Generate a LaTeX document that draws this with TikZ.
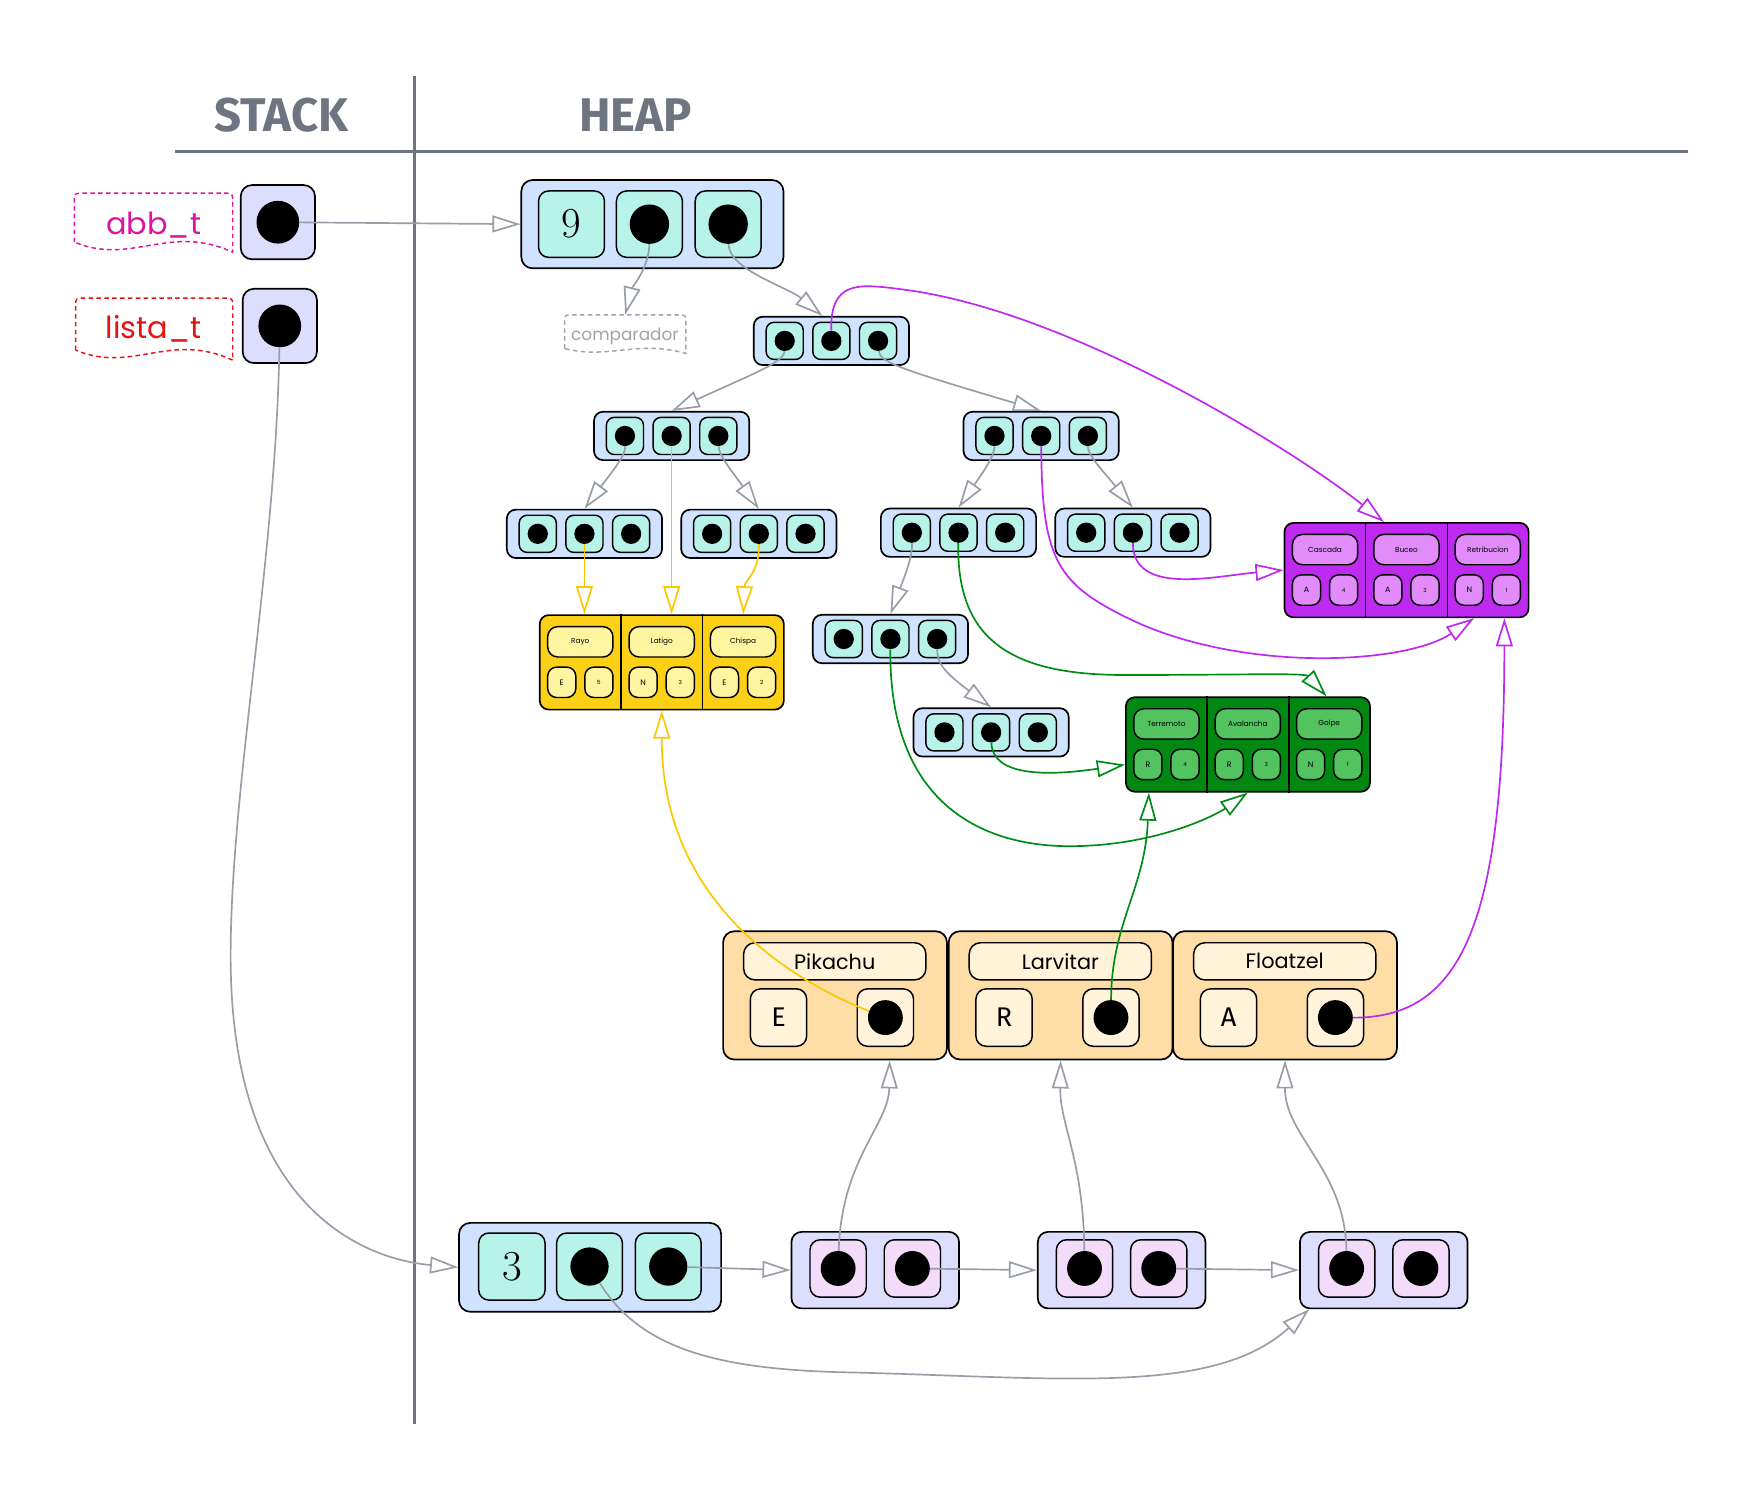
\documentclass[tikz,border=0pt]{standalone}
\usepackage{fontspec}
\newfontfamily\pop{Poppins}
\newfontfamily\fira{Fira Sans}
\usetikzlibrary{arrows.meta,calc}
\definecolor{hdr}{RGB}{110,116,128}
\definecolor{edgegray}{RGB}{152,157,168}
\definecolor{structblue}{RGB}{207,226,255}
\definecolor{cellmint}{RGB}{183,243,233}
\definecolor{lav}{RGB}{221,221,253}
\definecolor{lavcell}{RGB}{243,219,250}
\definecolor{pokefill}{RGB}{254,221,166}
\definecolor{pokepill}{RGB}{255,243,217}
\definecolor{yelbox}{RGB}{252,208,22}
\definecolor{yelpill}{RGB}{255,245,160}
\definecolor{grnbox}{RGB}{0,136,18}
\definecolor{grnpill}{RGB}{82,195,95}
\definecolor{purbox}{RGB}{190,42,240}
\definecolor{purpill}{RGB}{225,140,250}
\definecolor{magentalbl}{RGB}{220,20,160}
\definecolor{redlbl}{RGB}{228,20,20}
\definecolor{compgray}{RGB}{160,163,170}
\definecolor{yelline}{RGB}{250,200,0}
\definecolor{grnline}{RGB}{0,140,20}
\definecolor{purline}{RGB}{190,40,240}
\tikzset{
  rbox/.style={draw=black, line width=1.5pt, rounded corners=8pt, inner sep=0pt},
  cellbox/.style={draw=black, line width=1.3pt, rounded corners=7pt, inner sep=0pt},
  bdot/.style={circle, fill=black, inner sep=0pt, minimum size=#1},
  ptr/.style={line width=1.5pt, -{Triangle[open,length=25pt,width=15pt]}},
  gptr/.style={ptr, draw=edgegray},
  yptr/.style={ptr, draw=yelline},
  grptr/.style={ptr, draw=grnline},
  pptr/.style={ptr, draw=purline},
  hdrtext/.style={font=\fira\bfseries\fontsize{42}{42}\selectfont, text=hdr, inner sep=0pt},
}
% document-like dashed label outline
\newcommand\docshape[4]{%
  \draw[#2, line width=1.3pt, dash pattern=on 4pt off 3pt]
    (#1.south west) -- ($(#1.north west)+(0,8)$) .. controls (#1.north west) .. ($(#1.north west)+(8,0)$)
    -- ($(#1.north east)+(-8,0)$) .. controls (#1.north east) .. ($(#1.north east)+(0,8)$)
    -- ($(#1.south east)+(0,#3)$)
    .. controls ($(#1.south west)!0.6!(#1.south east)+(0,-#4)$) and ($(#1.south west)!0.36!(#1.south east)+(0,#4*1.25)$) .. (#1.south west) -- cycle;
}
% tree node: name, cx, cy
\newcommand\tnode[3]{%
  \node[rbox, fill=structblue, minimum width=138pt, minimum height=43pt] (#1) at (#2,#3) {};
  \foreach \k/\dx in {1/-41.5,2/0,3/41.5}{
    \node[cellbox, fill=cellmint, minimum width=33pt, minimum height=33pt] (#1c\k) at ($(#2,#3)+(\dx,0)$) {};
    \node[bdot=18pt] (#1d\k) at (#1c\k.center) {};
  }
}
% type box: name, left, top, fill, pill fill, list
\newcommand\typebox[6]{%
  \node[rbox, fill=#4, minimum width=217pt, minimum height=84pt, anchor=north west] (#1) at (#2,#3) {};
  \draw[line width=1.3pt] ($(#1.north west)!1/3!(#1.north east)$) -- ($(#1.south west)!1/3!(#1.south east)$);
  \draw[line width=1.3pt] ($(#1.north west)!2/3!(#1.north east)$) -- ($(#1.south west)!2/3!(#1.south east)$);
  \foreach \i/\nm/\lt/\vl in {#6}{
    \node[cellbox, fill=#5, minimum width=58pt, minimum height=27pt, rounded corners=9pt, font=\pop\fontsize{6.5}{6.5}\selectfont] (#1n\i) at ($(#2,#3)+(217*\i/3-35.5,24.5)$) {\nm};
    \node[cellbox, fill=#5, minimum width=25pt, minimum height=27pt, rounded corners=8pt, font=\pop\fontsize{7}{7}\selectfont] (#1l\i) at ($(#2,#3)+(217*\i/3-35.5-16.5,60.5)$) {\lt};
    \node[cellbox, fill=#5, minimum width=25pt, minimum height=27pt, rounded corners=8pt, font=\pop\fontsize{5}{5}\selectfont] (#1v\i) at ($(#2,#3)+(217*\i/3-35.5+16.5,60.5)$) {\raisebox{-1.5pt}{\vl}};
  }
}
% pokemon box: name, left, label, letter
\newcommand\pokebox[4]{%
  \node[rbox, fill=pokefill, minimum width=199pt, minimum height=114pt, anchor=north west, rounded corners=10pt] (#1) at (#2,827) {};
  \node[cellbox, fill=pokepill, minimum width=162pt, minimum height=33pt, rounded corners=10pt, font=\pop\fontsize{18.5}{18.5}\selectfont] (#1name) at ($(#2,827)+(100,27.5)$) {#3};
  \node[cellbox, fill=pokepill, minimum width=50pt, minimum height=51pt, rounded corners=9pt, font=\fira\fontsize{24}{24}\selectfont] (#1type) at ($(#2,827)+(50,77.5)$) {#4};
  \node[cellbox, fill=pokepill, minimum width=50pt, minimum height=51pt, rounded corners=9pt] (#1ptr) at ($(#2,827)+(145,77.5)$) {};
  \node[bdot=31pt] (#1dot) at (#1ptr.center) {};
}
% list node: name, cx
\newcommand\lnode[2]{%
  \node[rbox, fill=lav, minimum width=149pt, minimum height=68pt, rounded corners=9pt] (#1) at (#2,1129) {};
  \node[cellbox, fill=lavcell, minimum width=50pt, minimum height=51pt, rounded corners=9pt] (#1c1) at ($(#2,1129)+(-33,-1.5)$) {};
  \node[bdot=31pt] (#1d1) at (#1c1.center) {};
  \node[cellbox, fill=lavcell, minimum width=50pt, minimum height=51pt, rounded corners=9pt] (#1c2) at ($(#2,1129)+(33,-1.5)$) {};
  \node[bdot=31pt] (#1d2) at (#1c2.center) {};
}
\begin{document}
\begin{tikzpicture}[x=1pt,y=-1pt]
\useasboundingbox (0,0) rectangle (1567.1,1333.3);
% headings and dividers
\node[hdrtext] (hstack) at (250,102) {STACK};
\node[hdrtext] (hheap) at (565,102) {HEAP};
\draw[hdr, line width=3pt] (155.6,134.8) -- (1500,134.8);
\draw[hdr, line width=3pt] (368.4,67.6) -- (368.4,1266);

% stack
\node[rbox, fill=lav, minimum width=66pt, minimum height=66pt, rounded corners=10pt] (sp1) at (247,197.5) {};
\node[bdot=38pt] (sp1d) at (sp1.center) {};
\node[rbox, fill=lav, minimum width=66pt, minimum height=66pt, rounded corners=10pt] (sp2) at (248.7,289.7) {};
\node[bdot=38pt] (sp2d) at (sp2.center) {};

\node[minimum width=140.4pt, minimum height=43.1pt, inner sep=0pt] (labb) at (136.5,193.45) {};
\docshape{labb}{magentalbl}{9}{17}
\node[font=\pop\fontsize{27}{27}\selectfont, text=magentalbl, anchor=base, inner sep=0pt] (labbtxt) at (136.7,208) {abb\_t};
\node[minimum width=139.3pt, minimum height=45.8pt, inner sep=0pt] (llis) at (137.05,288.1) {};
\docshape{llis}{redlbl}{9}{17}
\node[font=\pop\fontsize{27}{27}\selectfont, text=redlbl, anchor=base, inner sep=0pt] (llistxt) at (136.7,300.7) {lista\_t};

% abb struct
\node[rbox, fill=structblue, minimum width=233pt, minimum height=78.5pt, rounded corners=10pt] (abb) at (579.9,199.25) {};
\node[cellbox, fill=cellmint, minimum width=58.6pt, minimum height=59pt, rounded corners=9pt, font=\fontsize{38}{38}\selectfont] (abbc1) at (508,199.25) {9};
\node[cellbox, fill=cellmint, minimum width=58.6pt, minimum height=59pt, rounded corners=9pt] (abbc2) at (577.25,199.25) {};
\node[bdot=35pt] (abbd2) at (abbc2.center) {};
\node[cellbox, fill=cellmint, minimum width=58.6pt, minimum height=59pt, rounded corners=9pt] (abbc3) at (647.25,199.25) {};
\node[bdot=35pt] (abbd3) at (abbc3.center) {};

\node[minimum width=107.5pt, minimum height=29.6pt, inner sep=0pt] (comp) at (555.75,294.8) {};
\docshape{comp}{compgray}{4.4}{8}
\node[font=\pop\fontsize{15}{15}\selectfont, text=compgray, anchor=base, inner sep=0pt] (comptxt) at (555.5,303) {comparador};

% tree
\tnode{R}{739}{303}
\tnode{A}{597}{387.5}
\tnode{B}{925.5}{387.5}
\tnode{AA}{519.5}{474.5}
\tnode{AB}{674.5}{474.5}
\tnode{BA}{852}{473.5}
\tnode{BB}{1007}{473.5}
\tnode{BAA}{791.5}{568}
\tnode{BAAB}{881}{651}

% type boxes
\typebox{yel}{479}{546}{yelbox}{yelpill}{1/Rayo/E/5,2/Latigo/N/3,3/Chispa/E/2}
\typebox{grn}{1000}{619}{grnbox}{grnpill}{1/Terremoto/R/4,2/Avalancha/R/3,3/Golpe/N/1}
\typebox{pur}{1141}{464}{purbox}{purpill}{1/Cascada/A/4,2/Buceo/A/3,3/Retribucion/N/1}

% pokemon
\pokebox{pika}{642}{Pikachu}{E}
\pokebox{larv}{842.5}{Larvitar}{R}
\pokebox{floa}{1042}{Floatzel}{A}

% list
\node[rbox, fill=structblue, minimum width=233pt, minimum height=79pt, rounded corners=10pt] (lst) at (524.5,1126.5) {};
\node[cellbox, fill=cellmint, minimum width=59pt, minimum height=59.6pt, rounded corners=9pt, font=\fontsize{38}{38}\selectfont] (lstc1) at (455,1125.8) {3};
\node[cellbox, fill=cellmint, minimum width=58.5pt, minimum height=59.6pt, rounded corners=9pt] (lstc2) at (524,1125.8) {};
\node[bdot=34pt] (lstd2) at (lstc2.center) {};
\node[cellbox, fill=cellmint, minimum width=58.5pt, minimum height=59.6pt, rounded corners=9pt] (lstc3) at (594,1125.8) {};
\node[bdot=34pt] (lstd3) at (lstc3.center) {};
\lnode{n1}{778}
\lnode{n2}{997}
\lnode{n3}{1230}

% ---- connectors ----
\draw[gptr] (sp1d) -- (abb.west);
\draw[gptr] (abbd2) .. controls (577,238) and (562,255) .. (comp.north);
\draw[gptr] (abbd3) .. controls (648,240) and (700,255) .. ($(R.north)+(-8,0)$);

\draw[gptr] (Rd1) .. controls (697,322) and (670,332) .. (A.north);
\draw[gptr] (Rd3) .. controls (782,322) and (800,328) .. (B.north);
\draw[pptr] (Rd2) .. controls (738,250) and (762,252) .. (800,257) .. controls (950,275) and (1150,400) .. ($(pur.north)+(-20,0)$);

\draw[gptr] (Ad1) .. controls (556,405) and (545,418) .. (AA.north);
\draw[gptr] (Ad3) .. controls (639,405) and (650,418) .. (AB.north);
\draw[yptr] (Ad2) -- (Ad2 |- yel.north);
\draw[yptr] (AAd2) -- (AAd2 |- yel.north);
\draw[yptr] (ABd2) .. controls (675,510) and (662,515) .. ($(yel.north)+(72.5,0)$);

\draw[gptr] (Bd1) .. controls (884,405) and (875,418) .. (BA.north);
\draw[gptr] (Bd3) .. controls (967,405) and (980,418) .. (BB.north);
\draw[pptr] (Bd2) .. controls (926,500) and (940,520) .. (1010,553) .. controls (1110,598) and (1250,590) .. ($(pur.south)+(60,0)$);
\draw[pptr] (BBd2) .. controls (1007,530) and (1080,512) .. (pur.west);

\draw[gptr] (BAd1) .. controls (811,495) and (805,510) .. (BAA.north);
\draw[grptr] (BAd2) .. controls (850,570) and (900,600) .. (1000,600) .. controls (1100,600) and (1160,598) .. ($(grn.north)+(70,0)$);
\draw[gptr] (BAAd3) .. controls (833,590) and (840,598) .. (BAAB.north);
\draw[grptr] (BAAd2) .. controls (790,720) and (880,755) .. (960,752) .. controls (1030,750) and (1080,725) .. (grn.south);
\draw[grptr] (BAABd2) .. controls (882,690) and (930,690) .. ($(grn.west)+(0,18)$);

\draw[yptr] (pikadot) .. controls (700,870) and (588,800) .. (yel.south);
\draw[grptr] (larvdot) .. controls (988,820) and (1018,790) .. ($(grn.south)+(-88,0)$);
\draw[pptr] (floadot) .. controls (1300,905) and (1337,820) .. ($(pur.south)+(87,0)$);

\draw[gptr] (sp2d) .. controls (245,500) and (205,700) .. (205,850) .. controls (205,1080) and (330,1120) .. (lst.west);
\draw[gptr] (lstd3) -- (n1.west);
\draw[gptr] (n1d2) -- (n2.west);
\draw[gptr] (n2d2) -- (n3.west);
\draw[gptr] (lstd2) .. controls (570,1200) and (640,1218) .. (760,1220) .. controls (950,1225) and (1080,1240) .. ($(n3.south west)+(9,0)$);
\draw[gptr] (n1d1) .. controls (748,1030) and (790,1000) .. ($(pika.south)+(48.5,0)$);
\draw[gptr] (n2d1) .. controls (963,1030) and (942,1000) .. (larv.south);
\draw[gptr] (n3d1) .. controls (1196,1040) and (1142,1010) .. (floa.south);
\end{tikzpicture}
\end{document}
